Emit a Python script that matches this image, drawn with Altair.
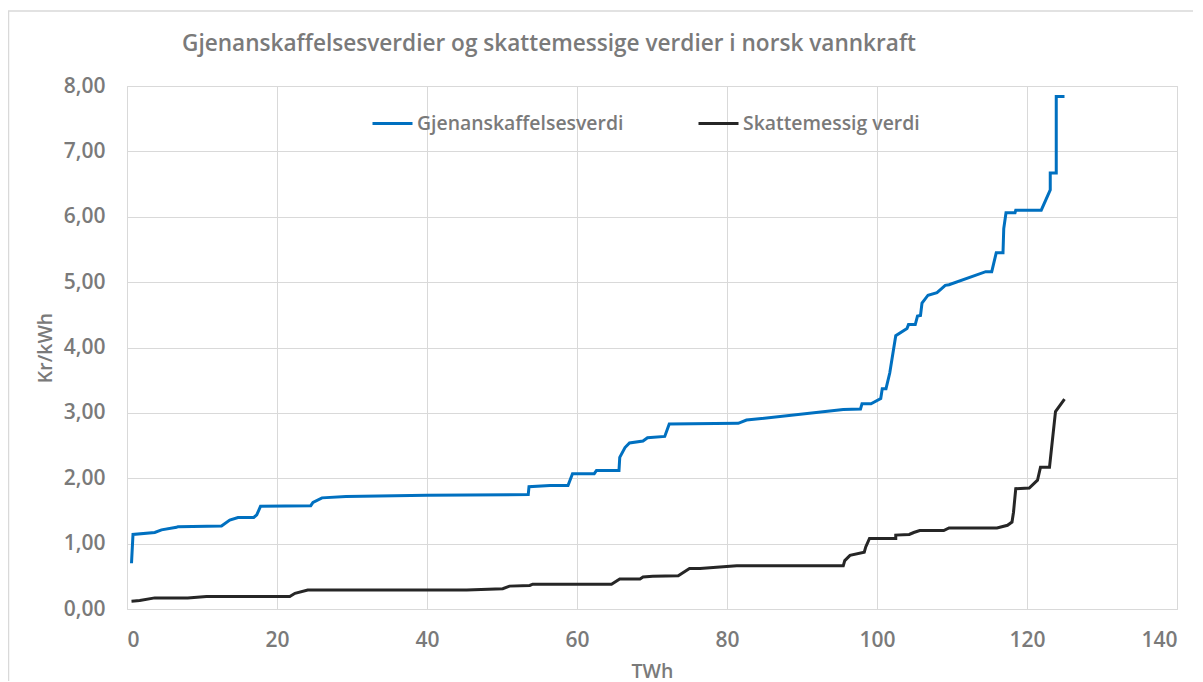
import altair as alt
import pandas as pd

# Gjenanskaffelsesverdi (replacement value)
blue_x = [0.6, 0.8, 3.7, 4.6, 6.6, 6.8, 12.6, 13.7, 14.8, 16.9, 17.3, 17.8,
          24.5, 24.8, 26.0, 29.2, 40.0, 53.5, 53.6, 56.4, 58.8, 59.4, 62.3, 62.6,
          65.6, 65.7, 66.4, 67.0, 68.8, 69.4, 71.7, 72.3, 81.5, 82.6, 95.5, 97.8,
          98.0, 99.2, 100.5, 100.7, 101.2, 101.7, 102.5, 104.0, 104.2, 105.1, 105.4, 105.8,
          106.0, 106.8, 108.0, 109.1, 109.6, 114.5, 115.3, 115.9, 116.8, 116.9, 117.2, 118.4,
          118.5, 121.9, 123.1, 123.1, 123.9, 123.9, 125.0]
blue_y = [0.70, 1.14, 1.17, 1.21, 1.25, 1.26, 1.27, 1.36, 1.40, 1.40, 1.44, 1.57,
          1.58, 1.63, 1.70, 1.72, 1.74, 1.75, 1.87, 1.89, 1.89, 2.07, 2.07, 2.12,
          2.12, 2.32, 2.47, 2.54, 2.57, 2.62, 2.64, 2.83, 2.84, 2.89, 3.05, 3.06,
          3.14, 3.14, 3.22, 3.37, 3.37, 3.61, 4.18, 4.29, 4.35, 4.35, 4.48, 4.49,
          4.68, 4.80, 4.84, 4.95, 4.96, 5.16, 5.16, 5.45, 5.45, 5.82, 6.06, 6.06,
          6.10, 6.10, 6.41, 6.67, 6.67, 7.84, 7.84]

# Skattemessig verdi (tax value)
black_x = [0.6, 1.7, 3.7, 8.1, 10.6, 21.7, 22.4, 24.1, 45.3, 50.1, 51.0, 53.7,
           54.1, 64.6, 65.7, 68.4, 68.8, 70.1, 73.5, 75.0, 76.4, 78.6, 81.3, 95.5,
           95.7, 96.4, 98.3, 98.5, 99.0, 102.5, 102.5, 104.3, 104.9, 105.7, 108.9, 109.6,
           116.0, 117.4, 118.0, 118.2, 118.5, 120.3, 121.4, 121.8, 123.0, 123.8, 125.0]
black_y = [0.12, 0.13, 0.17, 0.17, 0.19, 0.19, 0.24, 0.29, 0.29, 0.31, 0.35, 0.36,
           0.38, 0.38, 0.46, 0.46, 0.49, 0.50, 0.51, 0.62, 0.62, 0.64, 0.66, 0.66,
           0.74, 0.82, 0.87, 0.95, 1.08, 1.08, 1.13, 1.14, 1.17, 1.20, 1.20, 1.24,
           1.24, 1.28, 1.33, 1.48, 1.84, 1.85, 1.97, 2.17, 2.17, 3.02, 3.21]

series_names = ["Gjenanskaffelsesverdi", "Skattemessig verdi"]
series_colors = ["#0070C0", "#262626"]
x_ticks = [0, 20, 40, 60, 80, 100, 120, 140]
y_ticks = [0, 1, 2, 3, 4, 5, 6, 7, 8]

rows = []
for i, (x, y) in enumerate(zip(blue_x, blue_y)):
    rows.append({"serie": series_names[0], "TWh": x, "verdi": y, "i": i})
for i, (x, y) in enumerate(zip(black_x, black_y)):
    rows.append({"serie": series_names[1], "TWh": x, "verdi": y, "i": i})
df = pd.DataFrame(rows)

FONT = "Open Sans"
GRAY = "#7a7a7a"

lines = alt.Chart(df).mark_line(strokeWidth=3).encode(
    x=alt.X("TWh:Q", title="TWh",
            scale=alt.Scale(domain=[0, 140], nice=False),
            axis=alt.Axis(values=x_ticks, labelPadding=20, titlePadding=12)),
    y=alt.Y("verdi:Q", title="Kr/kWh",
            scale=alt.Scale(domain=[0, 8], nice=False),
            axis=alt.Axis(values=y_ticks, labelPadding=22, titlePadding=8,
                          labelExpr="replace(format(datum.value, '.2f'), '.', ',')")),
    color=alt.Color("serie:N",
                    scale=alt.Scale(domain=series_names, range=series_colors),
                    legend=alt.Legend(title=None, orient="none", direction="horizontal",
                                      legendX=244, legendY=16,
                                      symbolType="stroke", symbolSize=1600,
                                      symbolStrokeWidth=3, labelOffset=3,
                                      columnPadding=68, labelLimit=0,
                                      labelFont=FONT, labelFontSize=19.4,
                                      labelFontWeight=600, labelColor=GRAY)),
    order=alt.Order("i:Q"),
)

# outer chart-area frame (decorative, like the spreadsheet chart border)
frame = alt.Chart(pd.DataFrame({"k": [0]})).mark_rect(
    fill=None, stroke="#d9d9d9", strokeWidth=1.5
).encode(
    x=alt.value(-118.5), x2=alt.value(1200), y=alt.value(-75), y2=alt.value(700)
)

chart = alt.layer(frame, lines).properties(
    width=1050, height=523,
    title=alt.Title("Gjenanskaffelsesverdier og skattemessige verdier i norsk vannkraft",
                    anchor="start", frame="group", dx=55, offset=-45,
                    font=FONT, fontSize=22.6, fontWeight=600, color=GRAY),
    autosize=alt.AutoSizeParams(type="none"),
    padding={"left": 119, "top": 78, "right": 16, "bottom": 72},
).configure_view(
    stroke="#d9d9d9", strokeWidth=1
).configure_axis(
    grid=True, gridColor="#d9d9d9", gridWidth=1,
    domain=False, ticks=False,
    labelFont=FONT, labelFontSize=21, labelFontWeight=600, labelColor=GRAY,
    titleFont=FONT, titleFontSize=19.5, titleFontWeight=600, titleColor=GRAY,
)

chart.save("out.html", embed_options={"renderer": "svg", "actions": False})
